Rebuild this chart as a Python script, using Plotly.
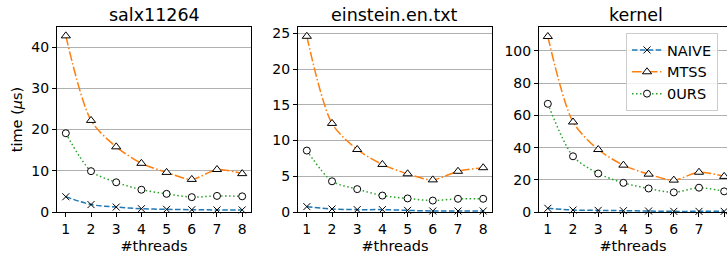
import plotly.graph_objects as go

threads = [1, 2, 3, 4, 5, 6, 7, 8]
titles = ["salx11264", "einstein.en.txt", "kernel"]

naive_salx = [3.7, 1.8, 1.2, 0.8, 0.65, 0.55, 0.5, 0.5]
mtss_salx = [42.7, 22.2, 15.8, 11.8, 9.6, 7.9, 10.3, 9.3]
ours_salx = [19.1, 9.9, 7.2, 5.4, 4.4, 3.6, 3.9, 3.8]

naive_ein = [0.75, 0.42, 0.33, 0.33, 0.23, 0.14, 0.14, 0.14]
mtss_ein = [24.6, 12.4, 8.75, 6.66, 5.35, 4.5, 5.7, 6.2]
ours_ein = [8.6, 4.3, 3.2, 2.3, 1.9, 1.6, 1.85, 1.85]

naive_ker = [2.3, 1.2, 1.0, 0.8, 0.6, 0.4, 0.4, 0.4]
mtss_ker = [109.0, 55.9, 38.8, 29.1, 23.5, 19.8, 24.7, 22.1]
ours_ker = [67.2, 34.6, 23.9, 18.1, 14.6, 12.2, 15.1, 12.8]

panels = [
    (naive_salx, mtss_salx, ours_salx),
    (naive_ein, mtss_ein, ours_ein),
    (naive_ker, mtss_ker, ours_ker),
]

W, H = 727, 256
FONT = "DejaVu Sans"

series_style = [
    ("NAIVE", "#1f77b4", "5.5px,2.4px", "x-thin", 7, "black"),
    ("MTSS", "#ff7f0e", "9.6px,2.4px,1.5px,2.4px", "triangle-up", 8, "white"),
    ("0URS", "#2ca02c", "1.5px,2.5px", "circle", 7, "white"),
]

fig = go.Figure()

xdoms = [(57, 251), (298, 492), (539, 727)]
ydom = [(256 - 212) / H, (256 - 27) / H]
xranges = [[0.65, 8.35], [0.65, 8.35], [0.65, 0.65 + 188 / 194 * 7.7]]
ymaxes = [44.85, 25.9, 114.9]
ydticks = [10, 5, 20]

for i, data in enumerate(panels):
    ax = "" if i == 0 else str(i + 1)
    for j, (name, color, dash, sym, msz, fill) in enumerate(series_style):
        fig.add_trace(go.Scatter(
            x=threads, y=data[j], name=name,
            xaxis="x" + ax, yaxis="y" + ax,
            mode="lines+markers",
            line=dict(color=color, dash=dash, width=1.5, shape="spline", smoothing=0.8),
            marker=dict(symbol=sym, size=msz, color=fill,
                        line=dict(color="black", width=1)),
            showlegend=(i == 2),
            cliponaxis=False,
        ))
    x0, x1 = xdoms[i]
    fig.layout["xaxis" + ax] = dict(
        domain=[x0 / W, x1 / W], range=xranges[i], anchor="y" + ax,
        tickmode="array", tickvals=threads, automargin=False,
        showline=True, linecolor="black", linewidth=1, mirror=True,
        ticks="outside", ticklen=4, tickcolor="black",
        showgrid=False, zeroline=False,
        tickfont=dict(family=FONT, size=14, color="black"),
        title=dict(text="#threads", font=dict(family=FONT, size=14.5, color="black"), standoff=5),
    )
    fig.layout["yaxis" + ax] = dict(
        domain=ydom, range=[0, ymaxes[i]], anchor="x" + ax, automargin=False,
        dtick=ydticks[i], tick0=0,
        showline=True, linecolor="black", linewidth=1, mirror=(i < 2),
        ticks="outside", ticklen=4, tickcolor="black",
        showgrid=True, gridcolor="#b0b0b0", gridwidth=1, zeroline=False,
        tickfont=dict(family=FONT, size=14, color="black"),
    )
    xc = (x0 + (x1 if i < 2 else 733)) / 2
    fig.add_annotation(
        x=xc / W, y=1 - 15 / H, xref="paper", yref="paper",
        text=titles[i], showarrow=False,
        font=dict(family=FONT, size=17.5, color="black"),
        xanchor="center", yanchor="middle",
    )

fig.layout.yaxis.title = dict(text="time (<i>μ</i>s)", font=dict(family=FONT, size=14.5, color="black"), standoff=5)

fig.update_layout(
    width=W, height=H,
    margin=dict(l=0, r=0, t=0, b=0),
    paper_bgcolor="white", plot_bgcolor="white",
    showlegend=True,
    legend=dict(
        x=626 / W, y=1 - 33 / H, xanchor="left", yanchor="top",
        bgcolor="rgba(255,255,255,0.8)", bordercolor="#cccccc", borderwidth=1,
        font=dict(family=FONT, size=14.5, color="black"),
        tracegroupgap=0, itemwidth=30,
    ),
)

fig.write_html("out.html", config={"displayModeBar": False},
               post_script="document.body.style.margin='0';document.body.style.overflow='hidden';")
